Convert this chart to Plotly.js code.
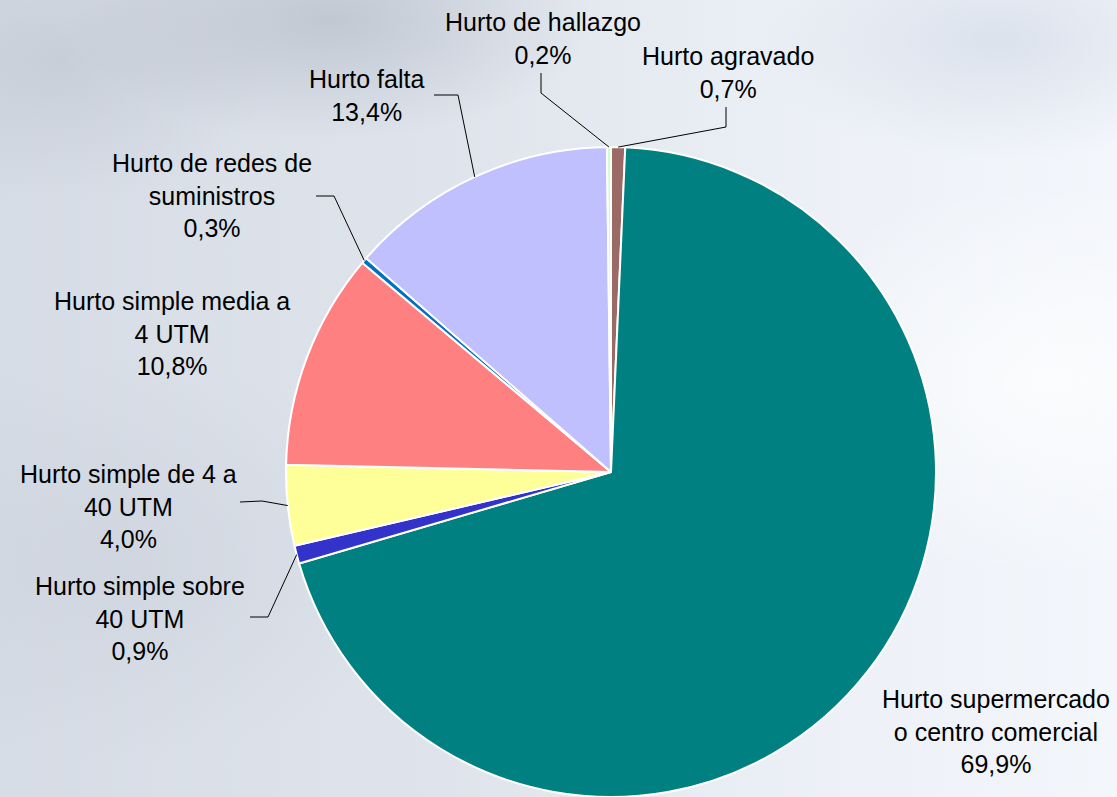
<!DOCTYPE html>
<html>
<head>
<meta charset="utf-8">
<script src="https://cdn.plot.ly/plotly-3.0.1.min.js"></script>
<style>
  html, body { margin: 0; padding: 0; width: 1117px; height: 797px; overflow: hidden; }
  body {
    background:
      radial-gradient(ellipse 260px 120px at 330px 20px, rgba(170,178,190,0.55), rgba(170,178,190,0) 100%),
      radial-gradient(ellipse 220px 140px at 60px 60px, rgba(180,188,200,0.45), rgba(180,188,200,0) 100%),
      radial-gradient(ellipse 300px 200px at 1050px 380px, rgba(255,255,255,0.7), rgba(255,255,255,0) 100%),
      radial-gradient(ellipse 250px 120px at 1000px 40px, rgba(205,214,228,0.6), rgba(205,214,228,0) 100%),
      radial-gradient(ellipse 300px 200px at 120px 560px, rgba(200,206,216,0.5), rgba(200,206,216,0) 100%),
      linear-gradient(to right, #d6dce5 0%, #dfe4ec 40%, #edf1f7 75%, #f3f6fb 100%);
  }
  #chart { width: 1117px; height: 797px; }
</style>
</head>
<body>
<div id="chart"></div>
<script>
// ---- data ----
var categories = [
  "Hurto agravado",
  "Hurto supermercado o centro comercial",
  "Hurto simple sobre 40 UTM",
  "Hurto simple de 4 a 40 UTM",
  "Hurto simple media a 4 UTM",
  "Hurto de redes de suministros",
  "Hurto falta",
  "Hurto de hallazgo"
];
var displayLabels = [
  "Hurto agravado",
  "Hurto supermercado<br>o centro comercial",
  "Hurto simple sobre<br>40 UTM",
  "Hurto simple de 4 a<br>40 UTM",
  "Hurto simple media a<br>4 UTM",
  "Hurto de redes de<br>suministros",
  "Hurto falta",
  "Hurto de hallazgo"
];
var percentages = [0.7, 69.9, 0.9, 4.0, 10.8, 0.3, 13.4, 0.2];
var sliceColors = ["#9c6a64", "#008080", "#3333cc", "#ffff99", "#ff8080", "#0070c0", "#c0c0ff", "#ccffcc"];

// ---- layout geometry (pixels) ----
var W = 1117, H = 797;
var cx = 611, cy = 472, R = 325;
// label centre positions and leader-line end/elbow points (null = no leader)
var labelPos = [
  {x: 728, y: 72},
  {x: 996, y: 731},
  {x: 140, y: 618},
  {x: 128, y: 506},
  {x: 172, y: 334},
  {x: 212, y: 196},
  {x: 366, y: 96},
  {x: 543, y: 38}
];
var leaders = [
  {end: [726, 107], elbow: [726, 127]},
  null,
  {end: [250, 617], elbow: [268, 617]},
  {end: [240, 502], elbow: [262, 501]},
  null,
  {end: [316, 196], elbow: [334, 196]},
  {end: [434, 95], elbow: [458, 95]},
  {end: [541, 73], elbow: [541, 93]}
];

function px(x) { return x / W; }
function py(y) { return 1 - y / H; }

var total = percentages.reduce(function (a, b) { return a + b; }, 0);
var annotations = [];
var shapes = [];
var cum = 0;
percentages.forEach(function (v, i) {
  var mid = (cum + v / 2) / total;
  cum += v;
  var ang = mid * 2 * Math.PI; // clockwise from 12 o'clock
  var ax = cx + R * Math.sin(ang);
  var ay = cy - R * Math.cos(ang);
  var pctText = v.toFixed(1).replace('.', ',') + '%';
  annotations.push({
    xref: 'paper', yref: 'paper',
    x: px(labelPos[i].x), y: py(labelPos[i].y),
    xanchor: 'center', yanchor: 'middle',
    text: displayLabels[i] + '<br>' + pctText,
    showarrow: false, align: 'center',
    font: {family: 'Liberation Sans, Arial, sans-serif', size: 25, color: '#000000'}
  });
  var L = leaders[i];
  if (L) {
    var path = 'M ' + px(L.end[0]) + ',' + py(L.end[1]) +
               ' L ' + px(L.elbow[0]) + ',' + py(L.elbow[1]) +
               ' L ' + px(ax) + ',' + py(ay);
    shapes.push({type: 'path', xref: 'paper', yref: 'paper', path: path,
                 line: {color: '#000000', width: 1}});
  }
});

var trace = {
  type: 'pie',
  labels: categories,
  values: percentages,
  sort: false,
  direction: 'clockwise',
  rotation: 0,
  textinfo: 'none',
  hoverinfo: 'label+percent',
  marker: {colors: sliceColors, line: {color: '#ffffff', width: 2}},
  domain: {x: [px(cx - R), px(cx + R)], y: [py(cy + R), py(cy - R)]},
  showlegend: false,
  automargin: false
};

var layout = {
  width: W, height: H,
  margin: {l: 0, r: 0, t: 0, b: 0, pad: 0},
  paper_bgcolor: 'rgba(0,0,0,0)',
  plot_bgcolor: 'rgba(0,0,0,0)',
  showlegend: false,
  annotations: annotations,
  shapes: shapes
};

Plotly.newPlot('chart', [trace], layout, {displayModeBar: false, staticPlot: true});
</script>
</body>
</html>
